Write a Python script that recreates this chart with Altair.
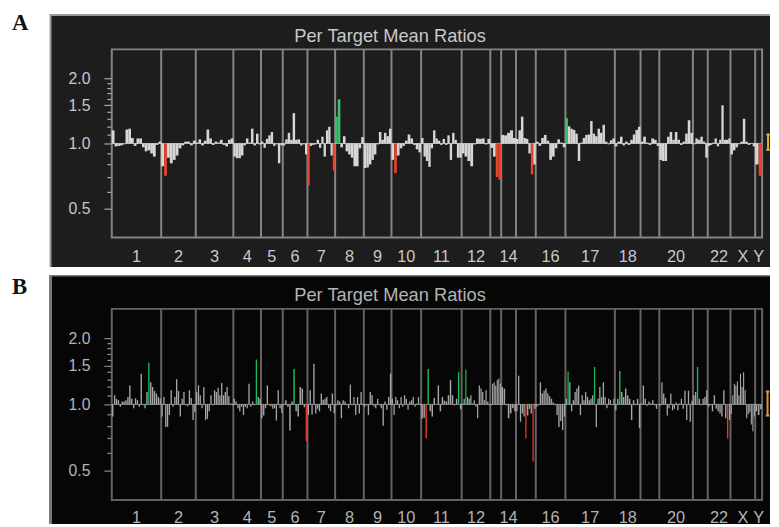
import math
import altair as alt
import pandas as pd

# ---------------- data ----------------
CHROMS = [str(i) for i in range(1, 23)] + ["X", "Y"]
# relative genomic extent of each chromosome on the x axis
CHROM_SPAN = [50, 35, 38, 28, 22, 25, 28, 29, 28, 30, 41, 29, 11, 15, 20, 30, 50, 26, 19, 34, 15, 23, 25, 7]
LABELED = ["1", "2", "3", "4", "5", "6", "7", "8", "9", "10", "11", "12",
           "14", "16", "17", "18", "20", "22", "X", "Y"]
Y_TICKS_MAJOR = [0.5, 1.0, 1.5, 2.0]
Y_TICKS_MINOR = [0.6, 0.7, 0.8, 0.9, 1.1, 1.2, 1.3, 1.4, 1.6, 1.7, 1.8, 1.9]
FRAME_LO, FRAME_HI = 1 / math.e, math.e
TITLE = "Per Target Mean Ratios"

A_ratios = {
    "1": [1.15, 0.97, 0.975, 0.98, 0.99, 1.16, 1.17, 1.06, 0.975, 1.055, 1.055, 0.96, 0.92, 0.93, 0.90, 0.87, 0.985, 1.02],
    "2": [0.785, 0.71, 0.86, 0.81, 0.84, 0.88, 0.95, 0.98, 1.02, 1.02, 0.98, 1.03],
    "3": [1.01, 1.045, 0.98, 1.03, 1.16, 1.055, 0.985, 1.02, 1.01, 1.04, 0.985, 0.97, 1.04, 1.055],
    "4": [0.87, 0.855, 0.855, 0.88, 0.98, 1.055, 1.01, 1.17, 0.98, 1.11, 0.99],
    "5": [1.02, 0.955, 1.05, 1.09, 1.13, 0.975, 0.99, 0.81, 0.98],
    "6": [0.98, 1.045, 1.12, 1.04, 1.38, 1.04, 1.045, 0.98, 0.99, 0.89],
    "7": [0.64, 0.975, 0.985, 0.99, 1.04, 0.955, 1.075, 0.87, 1.15, 1.195, 0.88, 0.75],
    "8": [1.33, 1.6, 0.96, 1.08, 0.92, 0.89, 0.86, 0.785, 0.785, 0.95, 1.07],
    "9": [0.77, 0.775, 0.80, 0.84, 0.89, 0.99, 1.13, 1.04, 1.12, 1.08, 1.17],
    "10": [0.84, 0.73, 0.88, 0.95, 0.975, 1.03, 1.10, 1.055, 0.985, 0.94, 0.91],
    "11": [1.06, 0.87, 0.83, 0.78, 0.95, 1.15, 1.055, 1.03, 0.985, 1.05, 0.985, 1.09, 0.84, 1.12, 1.04, 0.86, 0.86],
    "12": [0.90, 0.87, 0.83, 0.785, 0.99, 1.055, 1.05, 1.055, 0.99, 1.05],
    "13": [0.955, 0.87, 0.70, 0.68],
    "14": [1.095, 1.09, 1.12, 1.15, 1.06],
    "15": [1.05, 1.15, 1.33, 1.06, 1.05, 0.90, 0.72, 0.80],
    "16": [1.02, 0.975, 1.06, 1.095, 1.03, 0.84, 0.87, 0.95, 1.045, 1.01, 0.96],
    "17": [1.31, 1.20, 1.17, 1.155, 1.11, 0.83, 1.01, 1.06, 1.095, 1.10, 1.27, 1.11, 1.08, 1.17, 1.12, 1.22, 1.02, 0.99, 1.035, 1.055],
    "18": [0.97, 1.02, 1.075, 0.98, 1.02, 0.985, 1.04, 1.10, 1.155, 1.195],
    "19": [1.02, 1.075, 1.01, 0.985, 1.055, 1.04, 0.975],
    "20": [0.84, 0.83, 0.83, 1.075, 1.13, 1.04, 1.13, 1.04, 0.985, 1.02, 1.11, 1.28, 1.12],
    "21": [0.99, 1.055, 1.04, 1.075, 1.02, 0.86],
    "22": [0.975, 0.985, 1.01, 1.055, 0.97, 1.04, 1.50, 1.04, 1.04, 1.055],
    "X": [0.89, 0.93, 0.96, 0.99, 1.02, 1.30, 1.02, 0.985, 1.0, 0.97],
    "Y": [0.80, 0.71],
}
A_calls = {
    "1": {4: "flag"}, "2": {1: "loss"}, "5": {6: "flag"}, "6": {8: "flag"},
    "7": {0: "loss", 11: "loss"}, "8": {0: "gain", 1: "gain"}, "10": {1: "loss"},
    "13": {2: "loss", 3: "loss"}, "15": {6: "loss"}, "17": {0: "gain", 17: "flag"},
    "21": {0: "flag"}, "X": {3: "flag"}, "Y": {1: "loss"},
}
A_band = [0.935, 1.10]

B_ratios = {
    "1": [0.88, 1.10, 1.06, 1.045, 0.975, 1.03, 1.03, 1.045, 1.08, 1.22, 1.06, 0.96, 1.065, 1.045, 0.975, 1.38, 0.99, 0.96, 1.14, 1.55, 1.26, 1.20, 1.15, 1.12, 1.08, 1.06],
    "2": [0.88, 1.08, 0.79, 0.79, 0.895, 1.16, 0.975, 1.08, 1.30, 1.15, 0.88, 1.06, 1.14, 0.99, 0.98, 1.16, 1.07, 0.85, 0.92],
    "3": [1.14, 1.22, 1.10, 0.96, 1.20, 0.85, 0.86, 0.93, 1.10, 0.99, 1.16, 1.14, 1.19, 1.10, 1.25, 1.10, 1.14, 1.20, 1.09, 1.01, 0.99],
    "4": [1.06, 1.03, 0.96, 0.93, 0.975, 0.895, 0.975, 0.96, 1.24, 0.975, 1.03, 0.99, 1.60, 1.08, 1.06],
    "5": [0.865, 0.89, 0.96, 1.22, 0.99, 0.98, 0.955, 0.96, 0.845, 1.16, 0.96, 0.915],
    "6": [0.99, 1.045, 0.975, 0.76, 1.03, 1.45, 0.93, 0.88, 1.20, 1.18, 0.97, 0.68],
    "7": [0.895, 1.16, 0.90, 1.53, 0.91, 0.955, 0.93, 1.12, 1.05, 1.06, 1.08, 0.96, 0.93, 1.12, 0.91],
    "8": [0.99, 1.045, 1.03, 0.865, 1.045, 1.03, 0.99, 0.96, 1.23, 0.99, 1.08, 0.895, 1.08, 0.91, 1.14, 0.99],
    "9": [0.975, 0.99, 0.895, 1.14, 1.10, 0.98, 0.96, 1.06, 0.99, 0.96, 0.80, 1.03, 0.945, 1.08, 1.38],
    "10": [1.06, 0.895, 1.08, 1.045, 0.96, 1.08, 0.975, 1.10, 1.06, 0.945, 1.03, 1.045, 1.08, 0.975, 1.01, 1.08, 0.99],
    "11": [0.86, 0.87, 0.70, 1.45, 0.93, 0.88, 1.07, 1.0, 1.22, 0.93, 1.08, 1.04, 1.03, 1.10, 1.29, 1.10, 0.99, 1.06, 1.40, 0.95],
    "12": [1.01, 1.06, 1.44, 1.08, 1.06, 1.10, 1.01, 1.045, 0.975, 0.865, 1.22, 1.18, 1.14, 1.045, 1.16, 1.03, 0.99],
    "13": [0.99, 1.24, 1.26, 1.22, 1.29, 1.31, 1.24],
    "14": [1.20, 1.18, 0.99, 0.865, 0.91, 0.96, 0.93],
    "15": [0.93, 1.35, 0.835, 0.91, 0.88, 0.70, 0.89, 0.955, 0.91, 0.55, 0.955],
    "16": [0.975, 0.99, 1.26, 1.12, 1.155, 1.18, 1.12, 1.09, 1.06, 1.02, 0.99, 0.895, 0.79, 0.84, 0.765, 0.88],
    "17": [1.06, 1.41, 1.26, 0.93, 1.045, 1.14, 1.18, 1.22, 0.895, 1.10, 1.045, 1.14, 1.08, 1.045, 1.06, 1.10, 1.48, 0.79, 1.06, 1.20, 1.08, 1.26, 1.08, 0.96, 1.06, 1.045, 0.99, 1.06],
    "18": [0.94, 1.06, 1.42, 1.14, 1.08, 1.18, 1.10, 1.06, 0.85, 1.045, 0.99, 1.06, 0.78],
    "19": [1.01, 1.22, 1.06, 0.985, 1.03, 1.01, 1.045, 0.99, 0.955, 1.0],
    "20": [0.985, 1.26, 1.12, 1.07, 0.89, 0.96, 1.12, 0.94, 0.955, 1.02, 0.94, 1.01, 1.06, 0.955, 1.155, 0.85, 1.155, 0.835, 1.04],
    "21": [1.10, 1.14, 1.48, 1.06, 0.99, 1.06, 1.08, 1.16],
    "22": [0.975, 0.99, 0.93, 1.10, 0.955, 0.93, 0.91, 0.88, 1.16, 0.865, 0.70, 0.85],
    "X": [0.905, 1.10, 1.24, 1.22, 1.27, 1.10, 1.38, 1.20, 1.40, 1.16, 0.865, 0.90, 0.92, 0.81, 0.755, 0.88],
    "Y": [0.93, 0.895, 0.95],
}
B_calls = {
    "1": {19: "gain"}, "4": {12: "gain"}, "5": {5: "flag"}, "6": {5: "gain", 11: "loss"},
    "11": {2: "loss", 3: "gain", 18: "gain"}, "12": {2: "gain"}, "15": {5: "loss", 9: "loss"},
    "17": {1: "gain", 16: "gain"}, "18": {2: "gain"}, "21": {2: "gain"}, "22": {10: "loss"},
}
B_band = [0.89, 1.145]

# ---------------- layout / styles ----------------
W = 771            # plot width (page x 8 .. 779)
X_LEFT = 105       # pixel where genome starts
GENOME = sum(CHROM_SPAN)
X_DOMAIN = [-X_LEFT, GENOME + (W - X_LEFT - GENOME)]

STYLE_A = dict(height=259, base_px=134, ppu=66, box_top=4, box_sw=2,
               bg="#1d1d1d", box="#9a9a9a", frame="#858585", tick="#a8a8a8", bar="#d6d6d6",
               loss="#e8412e", gain="#3fbf6e", flag="#e2ad2a", text="#c8c8c8",
               band="#e2b22a", bar_frac=1.0, letter="A", title_y=31.5,
               letter_y=18.7, label_y=254, band_x=664)
STYLE_B = dict(height=252, base_px=131, ppu=67, box_top=0, box_sw=3,
               bg="#060606", box="#7a7a7a", frame="#636363", tick="#8c8c8c", bar="#a8a8a8",
               loss="#e5392a", gain="#1fb85a", flag="#e59a3a", text="#b4b4b4",
               band="#e5963a", bar_frac=0.72, letter="B", title_y=26.5,
               letter_y=19, label_y=251.5, band_x=663.5)

FONT = "Liberation Sans"


def build_panel(ratios, calls, band, st):
    H = st["height"]
    y_hi = 2 ** (st["base_px"] / st["ppu"])
    y_lo = 2 ** (-(H - st["base_px"]) / st["ppu"])
    xs = alt.Scale(domain=X_DOMAIN, nice=False, zero=False)
    ys = alt.Scale(type="log", domain=[y_lo, y_hi], nice=False)
    color_of = {"normal": st["bar"], "loss": st["loss"], "gain": st["gain"], "flag": st["flag"]}

    starts = []
    s = 0
    for w in CHROM_SPAN:
        starts.append(s)
        s += w

    rows = []
    for c, s0, w in zip(CHROMS, starts, CHROM_SPAN):
        vals = ratios[c]
        n = len(vals)
        slot = w / n
        pad = (1 - st["bar_frac"]) / 2 * slot
        for j, v in enumerate(vals):
            call = calls.get(c, {}).get(j, "normal")
            rows.append(dict(x0=s0 + j * slot + pad, x1=s0 + (j + 1) * slot - pad,
                             base=1.0, ratio=v, color=color_of[call]))
    bars_df = pd.DataFrame(rows)
    bounds_df = pd.DataFrame({"x": starts[1:], "lo": FRAME_LO, "hi": FRAME_HI})
    frame_df = pd.DataFrame({"x0": [0], "x1": [GENOME], "lo": [FRAME_LO], "hi": [FRAME_HI], "base": [1.0]})
    lab_df = pd.DataFrame({"chrom": [c for c in CHROMS if c in LABELED],
                           "cx": [s0 + w / 2 for c, s0, w in zip(CHROMS, starts, CHROM_SPAN) if c in LABELED]})
    bx = st["band_x"]
    band_df = pd.DataFrame({"x": [bx], "xa": [bx - 1.8], "xb": [bx + 1.8], "lo": [band[0]], "hi": [band[1]]})
    one = pd.DataFrame({"t": [TITLE], "l": [st["letter"]]})

    box = alt.Chart(one).mark_rect(fill=st["bg"], stroke=st["box"], strokeWidth=st["box_sw"], clip=True).encode(
        x=alt.value(43), x2=alt.value(W + 20), y=alt.value(st["box_top"]), y2=alt.value(H + 10))

    minor_axis = alt.Axis(values=Y_TICKS_MINOR, orient="left", offset=-104, tickSize=4, labels=False,
                          domain=False, grid=False, title=None, tickColor=st["tick"], tickWidth=1.2,
                          zindex=2)
    major_axis = alt.Axis(values=Y_TICKS_MAJOR, orient="left", offset=-104, tickSize=7, labelPadding=14,
                          labelExpr="format(datum.value, '.1f')", labelFont=FONT, labelFontSize=16,
                          labelColor=st["text"], labelOverlap=False, domain=False, grid=False, title=None,
                          tickColor=st["tick"], tickWidth=1.2, zindex=2)

    frame = alt.Chart(frame_df).mark_rect(fillOpacity=0, stroke=st["frame"], strokeWidth=2).encode(
        x=alt.X("x0:Q", scale=xs, axis=None), x2="x1:Q",
        y=alt.Y("lo:Q", scale=ys, axis=minor_axis), y2="hi:Q")

    lines = alt.Chart(bounds_df).mark_rule(color=st["frame"], strokeWidth=2).encode(
        x=alt.X("x:Q", scale=xs, axis=None),
        y=alt.Y("lo:Q", scale=ys, axis=None), y2="hi:Q")

    baseline = alt.Chart(frame_df).mark_rule(color=st["bar"], strokeWidth=1, opacity=0.8).encode(
        x=alt.X("x0:Q", scale=xs, axis=None), x2="x1:Q",
        y=alt.Y("base:Q", scale=ys, axis=None))

    bars = alt.Chart(bars_df).mark_rect().encode(
        x=alt.X("x0:Q", scale=xs, axis=None), x2="x1:Q",
        y=alt.Y("base:Q", scale=ys, axis=major_axis), y2="ratio:Q",
        color=alt.Color("color:N", scale=None))

    band_v = alt.Chart(band_df).mark_rule(color=st["band"], strokeWidth=2).encode(
        x=alt.X("x:Q", scale=xs, axis=None),
        y=alt.Y("lo:Q", scale=ys, axis=None), y2="hi:Q")
    band_lo = alt.Chart(band_df).mark_rule(color=st["band"], strokeWidth=2).encode(
        x=alt.X("xa:Q", scale=xs, axis=None), x2="xb:Q",
        y=alt.Y("lo:Q", scale=ys, axis=None))
    band_hi = alt.Chart(band_df).mark_rule(color=st["band"], strokeWidth=2).encode(
        x=alt.X("xa:Q", scale=xs, axis=None), x2="xb:Q",
        y=alt.Y("hi:Q", scale=ys, axis=None))

    title = alt.Chart(one).mark_text(font=FONT, fontSize=18.5, color=st["text"], align="center",
                                     baseline="alphabetic").encode(
        x=alt.value(386.5), y=alt.value(st["title_y"]), text="t:N")
    letter = alt.Chart(one).mark_text(font="Liberation Serif", fontSize=23, fontWeight="bold",
                                      color="#111111", align="left", baseline="alphabetic").encode(
        x=alt.value(4), y=alt.value(st["letter_y"]), text="l:N")
    labels = alt.Chart(lab_df).mark_text(font=FONT, fontSize=16.5, color=st["text"], align="center",
                                         baseline="alphabetic").encode(
        x=alt.X("cx:Q", scale=xs, axis=None), y=alt.value(st["label_y"]), text="chrom:N")

    return alt.layer(box, frame, lines, baseline, bars, band_v, band_lo, band_hi,
                     title, letter, labels).resolve_axis(y="independent").properties(width=W, height=H)


panel_a = build_panel(A_ratios, A_calls, A_band, STYLE_A)
panel_b = build_panel(B_ratios, B_calls, B_band, STYLE_B)

chart = alt.vconcat(panel_a, panel_b, spacing=8).properties(
    padding=0, background="white").configure_view(strokeWidth=0)

chart.save("out.html", embed_options={"renderer": "svg", "actions": False})
